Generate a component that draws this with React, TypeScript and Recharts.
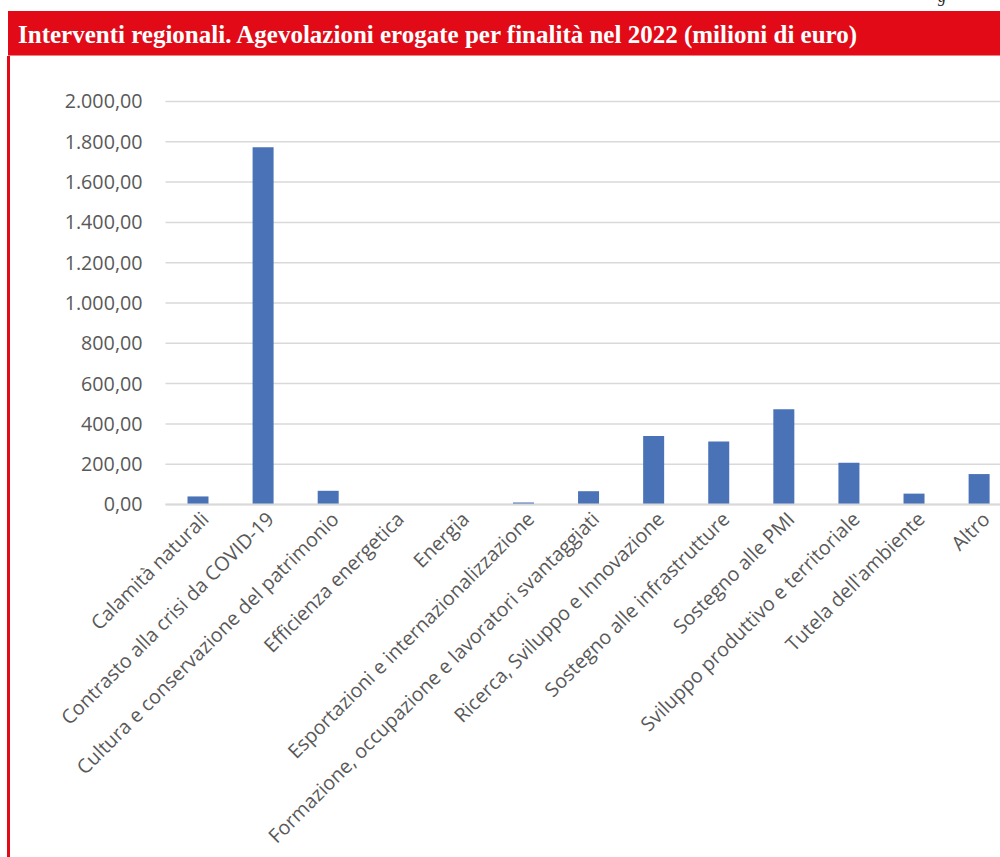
import React from 'react';
import { BarChart, Bar, XAxis, YAxis, CartesianGrid } from 'recharts';

const categories = [
  'Calamità naturali',
  'Contrasto alla crisi da COVID-19',
  'Cultura e conservazione del patrimonio',
  'Efficienza energetica',
  'Energia',
  'Esportazioni e internazionalizzazione',
  'Formazione, occupazione e lavoratori svantaggiati',
  'Ricerca, Sviluppo e Innovazione',
  'Sostegno alle infrastrutture',
  'Sostegno alle PMI',
  'Sviluppo produttivo e territoriale',
  "Tutela dell'ambiente",
  'Altro',
];

const values = [40, 1773, 68, 0, 0, 10, 66, 340, 313, 473, 207, 54, 151];

const yTicks = [0, 200, 400, 600, 800, 1000, 1200, 1400, 1600, 1800, 2000];

const title = 'Interventi regionali. Agevolazioni erogate per finalità nel 2022 (milioni di euro)';

const RED = '#e20a17';
const FONT = '"Open Sans", "Noto Sans", sans-serif';
const TICK_SIZE = 19.7;

const data = categories.map((name, i) => ({ name, value: values[i] }));

// 2000 -> "2.000,00"
const formatIt = (v: number) => {
  const [int, dec] = v.toFixed(2).split('.');
  return int.replace(/\B(?=(\d{3})+(?!\d))/g, '.') + ',' + dec;
};

const XTick = (props: any) => {
  const { x, y, payload } = props;
  return (
    <g transform={`translate(${x + 12},${y + 16})`}>
      <text transform="rotate(-45)" textAnchor="end" fill="#595959" fontSize={TICK_SIZE} fontFamily={FONT}>
        {payload.value}
      </text>
    </g>
  );
};

export default function App() {
  return (
    <div
      style={{
        position: 'absolute',
        left: 0,
        top: 0,
        width: 1000,
        height: 857,
        overflow: 'hidden',
        background: '#fff',
      }}
    >
      <div
        style={{
          position: 'absolute',
          left: 938,
          top: -12,
          fontFamily: '"Liberation Serif", serif',
          fontStyle: 'italic',
          fontSize: 16,
          lineHeight: '18px',
          color: '#222',
        }}
      >
        g
      </div>
      <div
        style={{
          position: 'absolute',
          left: 8,
          top: 11,
          width: 992,
          height: 44,
          background: RED,
          borderBottom: '1px solid #ee7f86',
        }}
      >
        <div
          style={{
            position: 'absolute',
            left: 10,
            top: 10,
            color: '#fff',
            fontFamily: '"Liberation Serif", serif',
            fontWeight: 'bold',
            fontSize: 25,
            lineHeight: '28px',
            whiteSpace: 'nowrap',
          }}
        >
          {title}
        </div>
      </div>
      <div style={{ position: 'absolute', left: 7, top: 56, width: 2.5, height: 801, background: RED }} />
      <div style={{ position: 'absolute', left: 0, top: 0 }}>
        <BarChart
          width={1020}
          height={857}
          data={data}
          margin={{ top: 101.5, right: 8.3, left: 0, bottom: 0 }}
          barSize={21}
        >
          <CartesianGrid vertical={false} stroke="#d9d9d9" strokeWidth={1.5} />
          <XAxis
            dataKey="name"
            interval={0}
            height={352.5}
            tickLine={false}
            tickSize={0}
            tickMargin={0}
            axisLine={{ stroke: '#d9d9d9', strokeWidth: 2 }}
            tick={<XTick />}
          />
          <YAxis
            width={165.5}
            domain={[0, 2000]}
            ticks={yTicks}
            tickFormatter={formatIt}
            axisLine={false}
            tickLine={false}
            tickSize={0}
            tickMargin={23}
            tick={{ fill: '#595959', fontSize: TICK_SIZE, fontFamily: FONT }}
          />
          <Bar dataKey="value" fill="#4a72b7" isAnimationActive={false} />
        </BarChart>
      </div>
    </div>
  );
}
